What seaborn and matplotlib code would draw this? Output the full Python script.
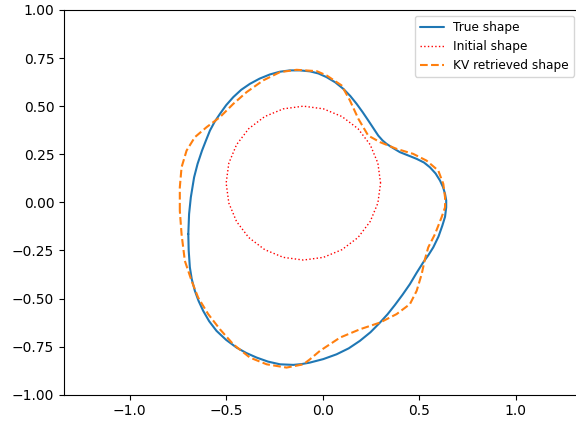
import matplotlib
matplotlib.use('Agg')
import matplotlib.pyplot as plt
import seaborn as sns

# true shape (closed curve)
true_x = [-0.696, -0.692, -0.683, -0.666, -0.648, -0.625, -0.604, -0.584, -0.560, -0.532,
          -0.500, -0.463, -0.422, -0.377, -0.327, -0.273, -0.222, -0.170, -0.118, -0.066,
          -0.022, 0.020, 0.065, 0.107, 0.143, 0.176, 0.207, 0.236, 0.263, 0.288,
          0.310, 0.331, 0.365, 0.400, 0.445, 0.487, 0.525, 0.556, 0.585, 0.608,
          0.624, 0.634, 0.640, 0.640, 0.634, 0.620, 0.600, 0.573, 0.548, 0.521,
          0.487, 0.452, 0.414, 0.374, 0.336, 0.297, 0.248, 0.193, 0.135, 0.072,
          0.003, -0.066, -0.110, -0.152, -0.221, -0.283, -0.342, -0.396, -0.446, -0.500,
          -0.550, -0.588, -0.619, -0.643, -0.662, -0.678, -0.688, -0.694, -0.696]
true_y = [-0.165, -0.061, 0.026, 0.130, 0.200, 0.269, 0.323, 0.373, 0.418, 0.460,
          0.505, 0.547, 0.585, 0.616, 0.643, 0.665, 0.679, 0.686, 0.686, 0.681,
          0.670, 0.651, 0.624, 0.590, 0.553, 0.512, 0.469, 0.426, 0.385, 0.347,
          0.322, 0.304, 0.282, 0.261, 0.243, 0.226, 0.207, 0.182, 0.150, 0.113,
          0.078, 0.044, 0.010, -0.026, -0.075, -0.121, -0.178, -0.234, -0.274, -0.312,
          -0.366, -0.425, -0.480, -0.534, -0.582, -0.625, -0.675, -0.720, -0.759, -0.790,
          -0.815, -0.833, -0.841, -0.845, -0.842, -0.828, -0.807, -0.783, -0.755, -0.715,
          -0.668, -0.618, -0.564, -0.512, -0.460, -0.400, -0.338, -0.250, -0.165]

# initial guess (circle)
init_x = [0.300, 0.286, 0.246, 0.183, 0.100, 0.004, -0.100, -0.204, -0.300, -0.383,
          -0.446, -0.486, -0.500, -0.486, -0.446, -0.383, -0.300, -0.204, -0.100, 0.004,
          0.100, 0.183, 0.246, 0.286, 0.300]
init_y = [0.100, 0.204, 0.300, 0.383, 0.446, 0.486, 0.500, 0.486, 0.446, 0.383,
          0.300, 0.204, 0.100, -0.004, -0.100, -0.183, -0.246, -0.286, -0.300, -0.286,
          -0.246, -0.183, -0.100, -0.004, 0.100]

# KV retrieved shape
kv_x = [-0.740, -0.740, -0.731, -0.705, -0.662, -0.601, -0.532, -0.463, -0.394, -0.308,
        -0.221, -0.135, -0.031, 0.020, 0.098, 0.141, 0.185, 0.236, 0.297, 0.383,
        0.469, 0.538, 0.599, 0.625, 0.634, 0.634, 0.616, 0.582, 0.547, 0.530,
        0.513, 0.487, 0.452, 0.383, 0.297, 0.193, 0.090, -0.014, -0.066, -0.100,
        -0.187, -0.290, -0.377, -0.463, -0.532, -0.593, -0.645, -0.679, -0.714, -0.731,
        -0.740]
kv_y = [-0.043, 0.078, 0.182, 0.269, 0.339, 0.391, 0.443, 0.512, 0.573, 0.634,
        0.677, 0.689, 0.682, 0.660, 0.608, 0.530, 0.434, 0.347, 0.313, 0.278,
        0.252, 0.217, 0.165, 0.096, 0.026, -0.026, -0.078, -0.165, -0.234, -0.295,
        -0.373, -0.460, -0.529, -0.581, -0.625, -0.660, -0.703, -0.772, -0.816, -0.842,
        -0.859, -0.842, -0.807, -0.738, -0.660, -0.581, -0.495, -0.408, -0.304, -0.165,
        -0.043]

fig = plt.figure(figsize=(5.76, 4.23), dpi=100)
ax = fig.add_axes([0.1111, 0.0669, 0.8958, 0.9095])

sns.lineplot(x=true_x, y=true_y, sort=False, estimator=None, color='C0', lw=1.5,
             solid_capstyle='round', label='True shape', ax=ax)
sns.lineplot(x=init_x, y=init_y, sort=False, estimator=None, color='red', lw=1,
             linestyle=':', label='Initial shape', ax=ax)
sns.lineplot(x=kv_x, y=kv_y, sort=False, estimator=None, color='C1', lw=1.5,
             linestyle='--', label='KV retrieved shape', ax=ax)

ax.set_xlim(-1.34, 1.333)
ax.set_ylim(-1, 1)
ax.legend(loc='upper right', fontsize=8.7)

fig.savefig('out.png', dpi=100)
